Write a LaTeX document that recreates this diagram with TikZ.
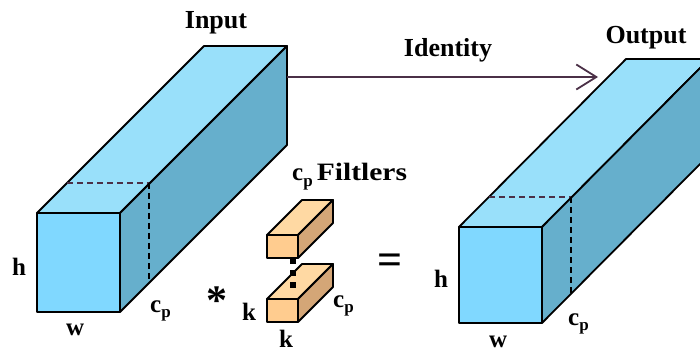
\documentclass[tikz,border=0pt]{standalone}
\usepackage{fontspec}
\setmainfont{Liberation Serif}
\usetikzlibrary{arrows.meta}
\definecolor{bfront}{HTML}{80D8FF}
\definecolor{btop}{HTML}{99E0FA}
\definecolor{bside}{HTML}{66AFCC}
\definecolor{ffront}{HTML}{FFCC8F}
\definecolor{ftop}{HTML}{FFD9A3}
\definecolor{fside}{HTML}{D4A677}
\definecolor{arrowc}{HTML}{4B3047}
\newcommand\mycuboid[9]{%
  \filldraw[face,fill=#8] (#1,#2) -- (#1+#3,#2) -- (#1+#3+#5,#2+#6) -- (#1+#5,#2+#6) -- cycle;
  \filldraw[face,fill=#9] (#1+#3,#2) -- (#1+#3,#2+#4) -- (#1+#3+#5,#2+#4+#6) -- (#1+#3+#5,#2+#6) -- cycle;
  \filldraw[face,fill=#7] (#1,#2) rectangle (#1+#3,#2+#4);
}
\newcommand\mysub[1]{c\raisebox{-0.22em}{\fontsize{17}{17}\selectfont #1}}
\tikzset{
  face/.style={draw=black,line width=1.8pt,line join=round},
  hidden/.style={line width=1.8pt,dash pattern=on 6pt off 4pt},
  lbl/.style={inner sep=0pt,anchor=base west,font=\fontsize{25}{25}\selectfont\bfseries},
  title/.style={inner sep=0pt,anchor=base,font=\fontsize{26}{26}\selectfont\bfseries},
  dotsq/.style={fill=black,minimum size=6pt,inner sep=0pt},
}
\begin{document}
\begin{tikzpicture}[x=1pt,y=-1pt]
\useasboundingbox (0,0) rectangle (700,352);
\clip (0,0) rectangle (700,352);
% input tensor
\mycuboid{37}{213}{83}{99}{167}{-167}{bfront}{btop}{bside}
\draw[hidden,arrowc] (67,183) -- (149,183);
\draw[hidden,black] (149,183) -- (149,283);
% output tensor
\mycuboid{459}{227}{83}{96}{167}{-168}{bfront}{btop}{bside}
\draw[hidden,arrowc] (489,197) -- (571,197);
\draw[hidden,black] (571,197) -- (571,294);
% filters
\mycuboid{267}{235}{31}{23}{35}{-35}{ffront}{ftop}{fside}
\mycuboid{267}{299}{31}{23}{35}{-35}{ffront}{ftop}{fside}
\node[dotsq] (d1) at (292.5,261) {};
\node[dotsq] (d2) at (292.5,273) {};
\node[dotsq] (d3) at (292.5,285) {};
% identity arrow
\coordinate (idstart) at (287,77);
\coordinate (idend) at (598,77);
\draw[arrowc,line width=1.8pt,-{Straight Barb[length=20pt,width=25pt,line width=1.8pt]}] (idstart) -- (idend);
% labels
\node[title] (tin) at (216,29) {Input};
\node[title] (tout) at (646,44) {Output};
\node[title] (tid) at (448,57) {Identity};
\node[lbl] (h1) at (12,275) {h};
\node[lbl] (h2) at (434,287) {h};
\node[lbl] (w1) at (66,335) {w};
\node[lbl] (w2) at (489,347) {w};
\node[lbl] (c1) at (150,312) {\mysub{p}};
\node[lbl] (c2) at (568,325) {\mysub{p}};
\node[lbl] (c3) at (333,307) {\mysub{p}};
\node[lbl] (k1) at (242,320) {k};
\node[lbl] (k2) at (279,347) {k};
\node[lbl] (filt) at (292,181) {\mysub{p}\,\scalebox{1.18}[1]{Filtlers}};
\node[inner sep=0pt,font=\fontsize{42}{42}\selectfont\bfseries] (ast) at (217,301) {*};
\node[inner sep=0pt,font=\fontsize{44}{44}\selectfont\bfseries] (eq) at (390,264) {=};
\end{tikzpicture}
\end{document}
